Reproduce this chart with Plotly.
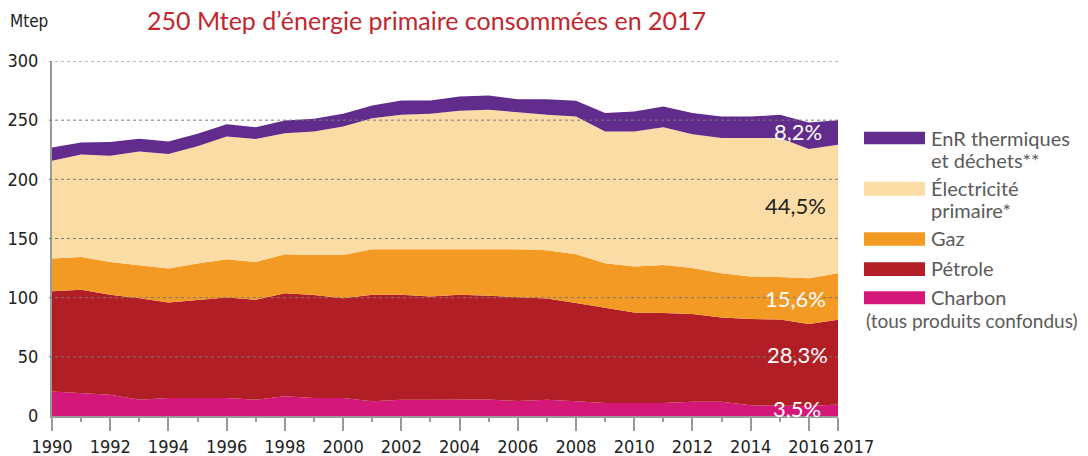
import plotly.graph_objects as go

years = list(range(1990, 2018))

charbon = [20.8, 19.4, 18.0, 13.8, 15.2, 15.2, 15.2, 13.8, 16.6, 15.2, 15.2, 12.4, 13.8, 13.8,
           14.0, 14.0, 12.6, 13.8, 12.4, 11.0, 11.0, 11.0, 12.1, 12.1, 9.0, 8.4, 8.4, 9.8]
petrole = [84.7, 87.2, 84.4, 85.8, 80.8, 83.0, 85.0, 84.4, 87.2, 87.0, 84.4, 90.0, 88.6, 87.2,
           88.4, 87.6, 87.6, 85.5, 83.0, 80.2, 76.5, 76.0, 74.1, 71.2, 73.0, 73.1, 69.4, 71.6]
gaz = [27.5, 27.8, 27.8, 27.8, 28.6, 30.6, 32.3, 32.0, 32.9, 33.9, 36.5, 38.5, 38.5, 39.9,
       39.0, 39.8, 40.8, 40.7, 41.3, 37.8, 38.8, 40.7, 38.8, 37.4, 35.8, 36.0, 38.7, 39.3]
electricite = [82.8, 86.5, 89.8, 96.2, 96.8, 99.1, 103.8, 103.8, 102.3, 104.4, 108.6, 110.8, 113.6, 114.5,
               116.6, 117.3, 115.7, 114.5, 116.3, 111.5, 114.2, 116.3, 113.0, 114.3, 117.2, 117.5, 109.1, 108.6]
enr = [11.1, 10.3, 11.5, 10.7, 10.6, 10.6, 10.3, 10.1, 10.7, 10.7, 10.7, 10.7, 12.1, 11.2,
       12.0, 12.1, 11.0, 13.2, 13.5, 15.5, 16.8, 17.5, 18.0, 18.0, 18.0, 19.5, 22.4, 20.7]

series_names = ['Charbon', 'Pétrole', 'Gaz', 'Électricité primaire*', 'EnR thermiques et déchets**']
series_values = [charbon, petrole, gaz, electricite, enr]
colors = ['#d3187a', '#b21e25', '#f39a24', '#fcdca5', '#612c8c']

shares = ['3,5%', '28,3%', '15,6%', '44,5%', '8,2%']

xtick_vals = list(range(1990, 2017, 2)) + [2017]
# last label is drawn apart, nudged right as in the original
xtick_text = [str(v) for v in xtick_vals[:-1]] + ['']
grid_vals = [50, 100, 150, 200, 250, 300]


# pixel helpers for the plot area (l=52, w=786, t=61, h=354.7)
def px(x):
    return (x - 52) / 786


def py(y):
    return (415.7 - y) / 354.7


fig = go.Figure()
for name, vals, color in zip(series_names, series_values, colors):
    fig.add_trace(go.Scatter(x=years, y=vals, name=name, stackgroup='one', mode='lines',
                             line=dict(width=0, color=color), fillcolor=color, hoverinfo='skip'))

label_font = 'Lato, Open Sans, sans-serif'
axis_font = 'DejaVu Sans Condensed, Liberation Sans Narrow, Arial Narrow, sans-serif'

annotations = [
    dict(text='250 Mtep d’énergie primaire consommées en 2017', x=px(426), y=py(20),
         font=dict(family=label_font, size=25, color='#c1272d')),
    dict(text='Mtep', x=px(29), y=py(21), font=dict(family=axis_font, size=17, color='#222')),
    dict(text=str(xtick_vals[-1]), x=px(853), y=py(446), font=dict(family=axis_font, size=18, color='#222')),
]

# share labels at the right end of each band
share_pos = [(797, 408, 'white'), (797, 354, 'white'), (795, 298, 'white'), (795, 205, '#222'), (798, 131, 'white')]
for text, (x, y, c) in zip(shares, share_pos):
    annotations.append(dict(text=text, x=px(x), y=py(y), font=dict(family=label_font, size=22, color=c)))

# custom legend
legend_rows = [
    (131.7, 144.3, ['EnR thermiques', 'et déchets**'], 138),
    (181.7, 195.7, ['Électricité', 'primaire*'], 188),
    (232.0, 245.7, ['Gaz'], 238),
    (262.0, 275.7, ['Pétrole'], 268),
    (291.0, 304.0, ['Charbon'], 297),
]
shapes = []
for (y0, y1, lines, ty), color in zip(legend_rows, colors[::-1]):
    shapes.append(dict(type='rect', xref='paper', yref='paper', x0=px(864), x1=px(925),
                       y0=py(y1), y1=py(y0), fillcolor=color, line=dict(width=0)))
    for k, line in enumerate(lines):
        annotations.append(dict(text=line, x=px(929), y=py(ty + 22 * k), xanchor='left',
                                font=dict(family=label_font, size=20, color='#5a5a5a')))
annotations.append(dict(text='(tous produits confondus)', x=px(864), y=py(320), xanchor='left',
                        font=dict(family=label_font, size=19, color='#5a5a5a')))

# dotted grid drawn over the areas, as in the original
for g in grid_vals:
    shapes.append(dict(type='line', xref='paper', yref='y', x0=px(49), x1=1, y0=g, y1=g,
                       line=dict(color='#7a7a7a', width=1, dash='dot'), layer='above'))

for a in annotations:
    a.setdefault('xanchor', 'center')
    a.update(xref='paper', yref='paper', yanchor='middle', showarrow=False)

fig.update_layout(
    width=1088, height=456,
    margin=dict(l=52, r=250, t=61, b=40.3),
    paper_bgcolor='white', plot_bgcolor='white',
    showlegend=False,
    annotations=annotations,
    shapes=shapes,
    xaxis=dict(range=[1990, 2017], tickmode='array', tickvals=xtick_vals, ticktext=xtick_text,
               showgrid=False, tickangle=0, automargin=False, ticklabelstandoff=0,
               showline=True, linecolor='#9a9a9a', linewidth=2, ticks='outside', ticklen=13,
               tickcolor='#9a9a9a', tickwidth=2,
               minor=dict(dtick=1, tick0=1990, ticks='outside', ticklen=4, tickcolor='#9a9a9a', tickwidth=2),
               tickfont=dict(family=axis_font, size=18, color='#222'), zeroline=False),
    yaxis=dict(range=[0, 300], dtick=50, showgrid=False, automargin=False, ticklabelstandoff=8,
               showline=True, linecolor='#9a9a9a', linewidth=2, ticks='',
               tickfont=dict(family=axis_font, size=18, color='#222'),
               zeroline=False),
)

# drop the default 8px body margin so the figure fills the window
fig.write_html('out.html', config={'displayModeBar': False},
               post_script="document.body.style.margin = '0px';")
